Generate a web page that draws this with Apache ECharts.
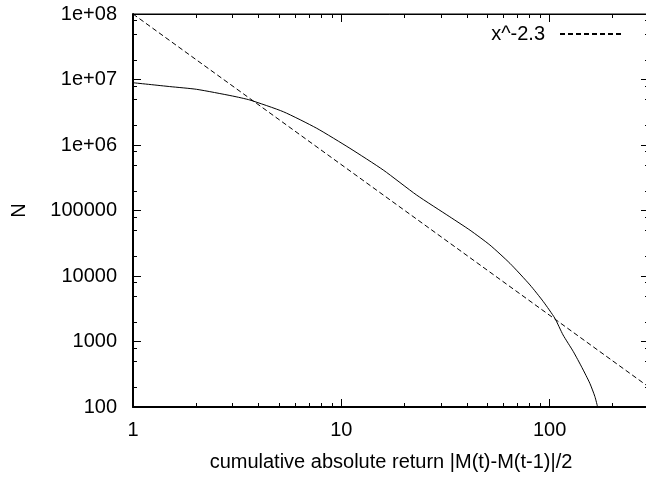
<!DOCTYPE html>
<html lang="en">
<head>
    <meta charset="UTF-8">
    <title>cumulative absolute return</title>
    <style>
        html, body { margin: 0; padding: 0; background: #fff; }
    </style>
    <script src="https://cdn.jsdelivr.net/npm/echarts@6/dist/echarts.min.js"></script>
</head>
<body>
<div id="main" style="width:646px;height:479px"></div>
<script>
    var curveX = [1, 1.5, 2.02, 3, 3.64, 5.27, 7.62, 11.0, 15.9, 23.0, 33.2, 41.5, 51.7, 64.5, 80.5, 93.3, 106, 116, 130, 143, 156, 165, 170];
    var curveN = [8.93e6, 7.8e6, 7.08e6, 5.6e6, 4.86e6, 3.22e6, 1.8e6, 8.9e5, 4.15e5, 1.72e5, 8.0e4, 5.0e4, 2.97e4, 1.56e4, 7.3e3, 4.06e3, 2.26e3, 1.26e3, 700, 400, 230, 144, 100];

    // reference line x^-2.3
    var fitX = [1, 300];
    var fitN = [1e8, 201];

    var xMin = 1, xMax = 300;
    var yMin = 100, yMax = 1e8;
    var xMinorTicks = [2, 3, 4, 5, 6, 7, 8, 9, 20, 30, 40, 50, 60, 70, 80, 90, 200];
    var yMinorTicks = [200, 500, 800, 2000, 5000, 8000, 20000, 50000, 80000, 2e5, 5e5, 8e5, 2e6, 5e6, 8e6, 2e7, 5e7, 8e7];

    var font = "'Liberation Sans', Arial, sans-serif";
    var majorLen = 8, minorLen = 4;

    function pairs(xs, ys) {
        return xs.map(function (x, i) { return [x, ys[i]]; });
    }

    function yLabel(v) {
        var e = Math.round(Math.log10(v));
        if (e >= 6) return '1e+0' + e;
        return String(Math.pow(10, e));
    }

    function crisp(v) { return Math.round(v) + 0.5; }

    var tickStyle = { stroke: '#000', lineWidth: 1 };

    var myChart = echarts.init(document.getElementById('main'), null, { renderer: 'canvas' });

    var option = {
        animation: false,
        backgroundColor: '#fff',
        textStyle: { fontFamily: font, color: '#000' },
        grid: {
            left: 133, top: 14, width: 516, height: 393,
            outerBoundsMode: 'none',
            show: true, borderColor: '#000', borderWidth: 1, backgroundColor: 'transparent'
        },
        legend: {
            data: [{ name: 'x^-2.3', itemStyle: { opacity: 0 } }],
            right: 18, top: 19,
            align: 'right',
            itemWidth: 62, itemHeight: 14,
            itemStyle: { opacity: 0 },
            textStyle: { fontFamily: font, fontSize: 20, color: '#000', padding: [0, 10, 0, 0] }
        },
        xAxis: [{
            type: 'log', logBase: 10, min: xMin, max: xMax,
            position: 'bottom',
            name: 'cumulative absolute return |M(t)-M(t-1)|/2',
            nameLocation: 'middle', nameGap: 45,
            nameTextStyle: { fontFamily: font, fontSize: 20, color: '#000' },
            axisLine: { show: true, lineStyle: { color: '#000', width: 2 } },
            axisTick: { show: true, inside: true, length: majorLen, lineStyle: { color: '#000', width: 1 } },
            axisLabel: { fontFamily: font, fontSize: 20, color: '#000', margin: 13, showMaxLabel: false },
            splitLine: { show: false }, minorTick: { show: false }
        }, {
            type: 'log', logBase: 10, min: xMin, max: xMax,
            position: 'top',
            axisLine: { show: true, lineStyle: { color: '#000', width: 1 } },
            axisTick: { show: true, inside: true, length: majorLen, lineStyle: { color: '#000', width: 1 } },
            axisLabel: { show: false },
            splitLine: { show: false }
        }],
        yAxis: [{
            type: 'log', logBase: 10, min: yMin, max: yMax, interval: 1,
            position: 'left',
            name: 'N',
            nameLocation: 'middle', nameGap: 104,
            nameTextStyle: { fontFamily: font, fontSize: 20, color: '#000' },
            axisLine: { show: true, lineStyle: { color: '#000', width: 2 } },
            axisTick: { show: true, inside: true, length: majorLen, lineStyle: { color: '#000', width: 1 } },
            axisLabel: { fontFamily: font, fontSize: 20, color: '#000', margin: 16, formatter: yLabel },
            splitLine: { show: false }
        }, {
            type: 'log', logBase: 10, min: yMin, max: yMax, interval: 1,
            position: 'right',
            axisLine: { show: true, lineStyle: { color: '#000', width: 1 } },
            axisTick: { show: true, inside: true, length: majorLen, lineStyle: { color: '#000', width: 1 } },
            axisLabel: { show: false },
            splitLine: { show: false }
        }],
        series: [{
            name: 'data',
            type: 'line',
            data: pairs(curveX, curveN),
            showSymbol: false, symbol: 'none',
            smooth: 0.2,
            lineStyle: { color: '#000', width: 1 },
            z: 3
        }, {
            name: 'x^-2.3',
            type: 'line',
            data: pairs(fitX, fitN),
            showSymbol: false, symbol: 'none',
            lineStyle: { color: '#000', width: 1, type: [5, 3] },
            itemStyle: { color: '#000' },
            z: 3
        }, {
            type: 'custom',
            silent: true,
            data: xMinorTicks.map(function (v) { return [v, yMin]; }),
            renderItem: function (params, api) {
                var b = api.coord([api.value(0), yMin]);
                var t = api.coord([api.value(0), yMax]);
                var x = crisp(b[0]);
                return {
                    type: 'group', children: [
                        { type: 'line', shape: { x1: x, y1: b[1], x2: x, y2: b[1] - minorLen }, style: tickStyle },
                        { type: 'line', shape: { x1: x, y1: t[1], x2: x, y2: t[1] + minorLen }, style: tickStyle }
                    ]
                };
            },
            z: 4
        }, {
            type: 'custom',
            silent: true,
            data: yMinorTicks.map(function (v) { return [xMin, v]; }),
            renderItem: function (params, api) {
                var l = api.coord([xMin, api.value(1)]);
                var r = api.coord([xMax, api.value(1)]);
                var y = crisp(l[1]);
                return {
                    type: 'group', children: [
                        { type: 'line', shape: { x1: l[0], y1: y, x2: l[0] + minorLen, y2: y }, style: tickStyle },
                        { type: 'line', shape: { x1: r[0], y1: y, x2: r[0] - minorLen, y2: y }, style: tickStyle }
                    ]
                };
            },
            z: 4
        }]
    };

    myChart.setOption(option);
</script>
</body>
</html>
